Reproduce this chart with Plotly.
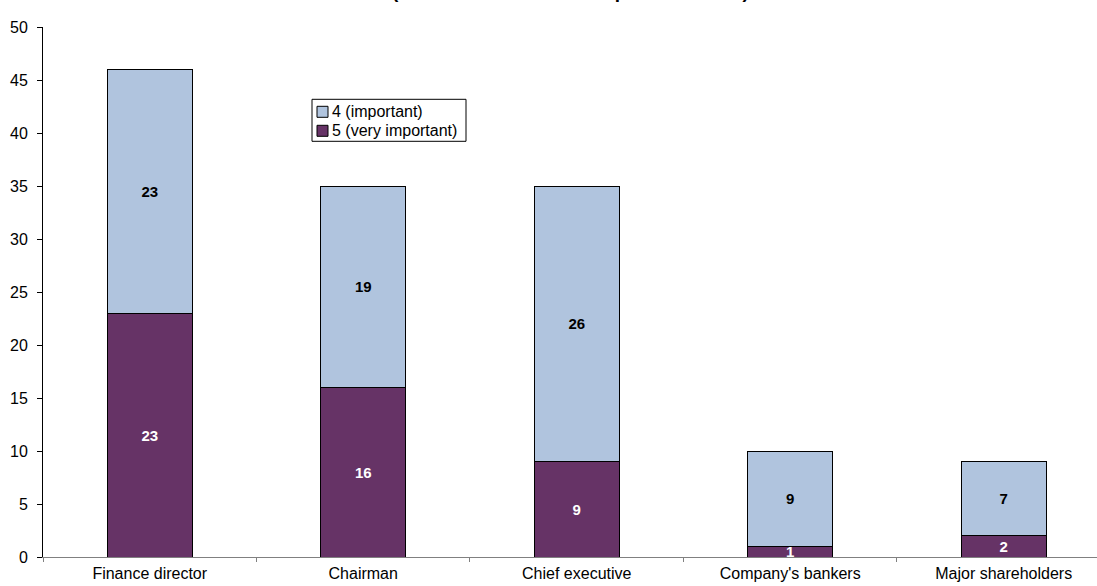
import plotly.graph_objects as go

categories = ["Finance director", "Chairman", "Chief executive", "Company's bankers", "Major shareholders"]
important = [23, 19, 26, 9, 7]
very_important = [23, 16, 9, 1, 2]
series_names = ["4 (important)", "5 (very important)"]
series_colors = ["#B0C4DE", "#663366"]
title_text = "(those who rated it as important: 4 or 5)"

font_family = "Liberation Sans, Arial, sans-serif"

fig = go.Figure()
fig.add_trace(go.Bar(
    x=categories, y=very_important, name=series_names[1],
    marker=dict(color=series_colors[1], line=dict(color="black", width=1)),
    text=very_important, textposition="inside", insidetextanchor="middle",
    constraintext="none", textangle=0,
    textfont=dict(color="white", size=15, family=font_family, weight="bold"),
    width=0.4,
))
fig.add_trace(go.Bar(
    x=categories, y=important, name=series_names[0],
    marker=dict(color=series_colors[0], line=dict(color="black", width=1)),
    text=important, textposition="inside", insidetextanchor="middle",
    constraintext="none", textangle=0,
    textfont=dict(color="black", size=15, family=font_family, weight="bold"),
    width=0.4,
))

# Manual legend (box, swatches, labels) in paper coordinates
PW, PH = 1054.0, 530.0
def px_x(p):
    return (p - 43) / PW
def px_y(p):
    return (556.7 - p) / PH

shapes = [dict(type="rect", xref="paper", yref="paper",
               x0=px_x(312), x1=px_x(466), y0=px_y(141), y1=px_y(99),
               line=dict(color="black", width=1), fillcolor="white", layer="above")]
annotations = []
rows_y = [111.5, 130.5]
for name, col, yy in zip(series_names, series_colors, rows_y):
    shapes.append(dict(type="rect", xref="paper", yref="paper",
                       x0=px_x(317), x1=px_x(328), y0=px_y(yy + 5.5), y1=px_y(yy - 5.5),
                       line=dict(color="black", width=1), fillcolor=col, layer="above"))
    annotations.append(dict(text=name, xref="paper", yref="paper",
                            x=px_x(330), y=px_y(yy), xanchor="left", yanchor="middle",
                            showarrow=False, font=dict(size=16, family=font_family, color="black")))

annotations.append(dict(
    text="<b>" + title_text + "</b>", xref="paper", yref="paper",
    x=0.5, y=1 + 23 / PH, xanchor="center", yanchor="bottom",
    showarrow=False, font=dict(size=19, family=font_family, color="black"),
))

fig.update_layout(
    width=1097, height=586, autosize=False,
    barmode="stack",
    plot_bgcolor="white", paper_bgcolor="white",
    margin=dict(l=43, r=0, t=27, b=29),
    font=dict(family=font_family, size=16, color="black"),
    showlegend=False,
    shapes=shapes,
    annotations=annotations,
)
fig.update_xaxes(
    range=[-0.5, 4.437], showline=True, linecolor="#808080", linewidth=1,
    ticks="outside", tickson="boundaries", ticklen=4, tickcolor="#808080",
    showgrid=False, tickfont=dict(size=16), ticklabelstandoff=2,
)
fig.update_yaxes(
    range=[0, 50], dtick=5, showline=True, linecolor="black", linewidth=1,
    ticks="outside", ticklen=5, tickcolor="black", showgrid=False,
    zeroline=False, tickfont=dict(size=16), ticklabelstandoff=6,
)

fig.write_html("out.html")
